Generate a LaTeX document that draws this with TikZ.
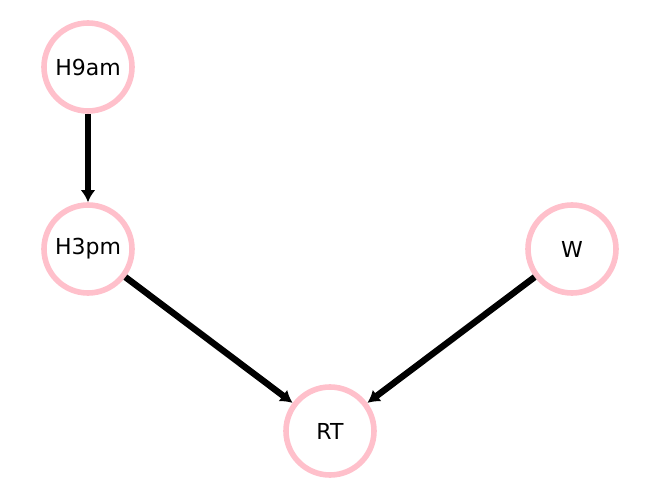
\documentclass[tikz,border=0pt]{standalone}
\usepackage{fontspec}
\setmainfont{DejaVu Sans}
\usetikzlibrary{arrows.meta}
\definecolor{nodepink}{RGB}{255,192,203}
\begin{document}
\begin{tikzpicture}[x=0.75pt, y=-0.75pt,
  var/.style={circle, draw=nodepink, line width=4.2pt, minimum size=66pt, inner sep=0pt, font=\fontsize{16.5}{18}\selectfont},
  edge/.style={-{Latex[length=9pt,width=11pt]}, line width=4.8pt}]
\useasboundingbox (0,0) rectangle (660,499);
\node[var] (h9) at (88,67) {H9am};
\node[var] (h3) at (88,249) {H3pm};
\node[var] (w) at (572,249) {W};
\node[var] (rt) at (330,431) {RT};

\draw[edge] (h9)--(h3);
\draw[edge] (h3)--(rt);
\draw[edge] (w)--(rt);
\end{tikzpicture}
\end{document}
